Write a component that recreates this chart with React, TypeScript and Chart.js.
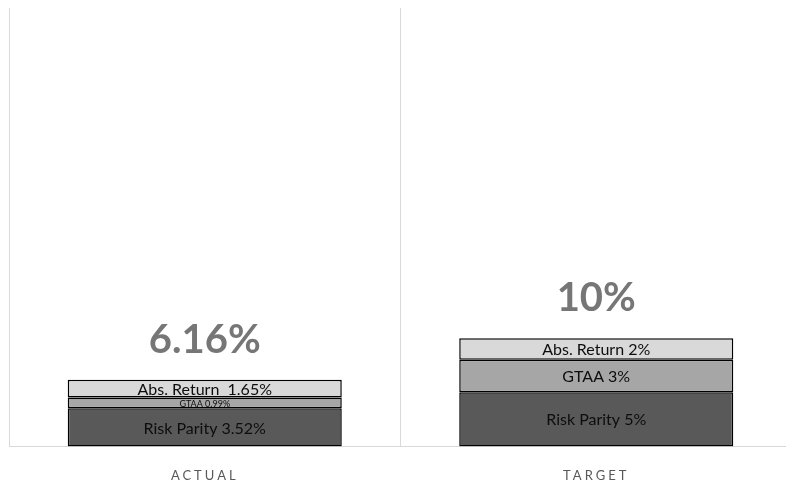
import { useEffect, useRef } from "react";
import Chart from "chart.js/auto";

const categories = ["ACTUAL", "TARGET"];
const riskParity = [3.52, 5];
const gtaa = [0.99, 3];
const absReturn = [1.65, 2];
const totals = ["6.16%", "10%"];
const riskParityLabels = ["Risk Parity 3.52%", "Risk Parity 5%"];
const gtaaLabels = ["GTAA 0.99%", "GTAA 3%"];
const absReturnLabels = ["Abs. Return  1.65%", "Abs. Return 2%"];

const FONT = "Lato, 'Liberation Sans', sans-serif";

const labelPlugin = {
  id: "segLabels",
  beforeDraw: (chart: any) => {
    chart.ctx.letterSpacing = "3px";
  },
  afterDatasetsDraw: (chart: any) => {
    const ctx = chart.ctx;
    ctx.save();
    ctx.letterSpacing = "0px";
    ctx.textAlign = "center";
    ctx.textBaseline = "middle";
    const labelSets = [riskParityLabels, gtaaLabels, absReturnLabels];
    chart.data.datasets.forEach((ds: any, di: number) => {
      const meta = chart.getDatasetMeta(di);
      meta.data.forEach((bar: any, i: number) => {
        const h = Math.abs(bar.base - bar.y);
        const size = h < 14 ? 9 : 16;
        ctx.font = `${size}px ${FONT}`;
        ctx.fillStyle = "#0d0d0d";
        ctx.fillText(labelSets[di][i], bar.x, (bar.y + bar.base) / 2 + 1);
      });
    });
    const top = chart.getDatasetMeta(2);
    top.data.forEach((bar: any, i: number) => {
      ctx.font = `bold 40px ${FONT}`;
      ctx.fillStyle = "#767676";
      ctx.fillText(totals[i], bar.x, bar.y - 40);
    });
    ctx.restore();
  },
};

export default function App() {
  const canvasRef = useRef<HTMLCanvasElement | null>(null);

  useEffect(() => {
    if (!canvasRef.current) return;
    const common = {
      borderColor: "#000000",
      borderWidth: 1.5,
      borderSkipped: false,
      categoryPercentage: 1,
      barPercentage: 0.7,
    };
    const chart = new Chart(canvasRef.current, {
      type: "bar",
      data: {
        labels: categories,
        datasets: [
          { label: "Risk Parity", data: riskParity, backgroundColor: "#595959", ...common },
          { label: "GTAA", data: gtaa, backgroundColor: "#a6a6a6", ...common },
          { label: "Abs. Return", data: absReturn, backgroundColor: "#d9d9d9", ...common },
        ],
      },
      options: {
        animation: false,
        responsive: true,
        maintainAspectRatio: false,
        layout: { padding: { left: 9, right: 0, top: 8, bottom: 6 } },
        plugins: { legend: { display: false }, tooltip: { enabled: false } },
        scales: {
          x: {
            stacked: true,
            grid: { color: "#d9d9d9", offset: true, drawTicks: false },
            border: { color: "#d9d9d9" },
            ticks: { color: "#595959", font: { family: FONT, size: 13 }, padding: 22 },
          },
          y: {
            stacked: true,
            display: false,
            min: 0,
            max: 40.5,
          },
        },
      },
      plugins: [labelPlugin],
    });
    return () => chart.destroy();
  }, []);

  return (
    <div style={{ position: "fixed", left: 0, top: 0, width: 786, height: 484, overflow: "hidden", background: "#fff" }}>
      <div style={{ position: "relative", width: 792, height: 512 }}>
        <canvas ref={canvasRef} />
      </div>
    </div>
  );
}
